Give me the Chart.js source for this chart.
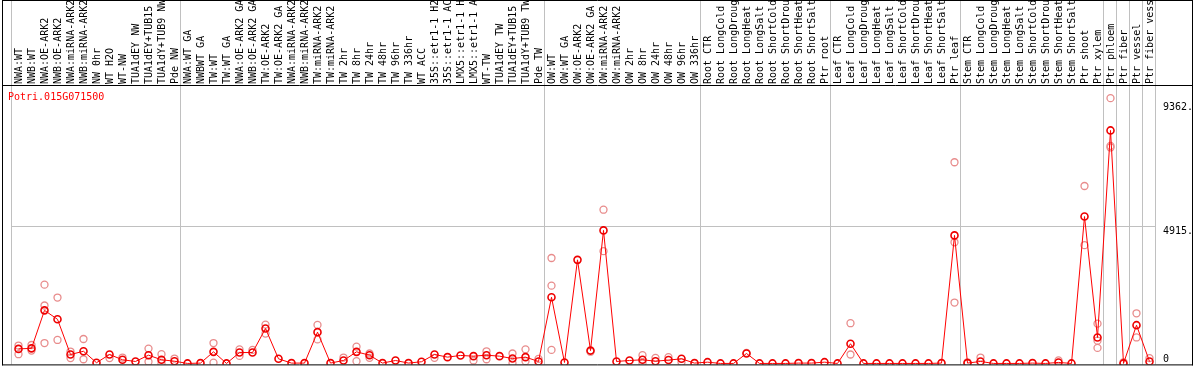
<!DOCTYPE html>
<html>
<head>
<meta charset="utf-8">
<script src="https://cdn.jsdelivr.net/npm/chart.js@4/dist/chart.umd.min.js"></script>
<style>
  html, body { margin: 0; padding: 0; background: #fff; }
  canvas { display: block; }
</style>
</head>
<body>
<canvas id="expr" width="1194" height="370"></canvas>
<script>
const GENE = "Potri.015G071500";

const samples = [
  "NWA:WT", "NWB:WT", "NWA:OE-ARK2", "NWB:OE-ARK2", "NWA:miRNA-ARK2", "NWB:miRNA-ARK2",
  "NW 0hr", "WT H2O", "WT-NW", "TUA1dEY NW", "TUA1dEY+TUB15 NW", "TUA1dY+TUB9 NW", "Pde NW",
  "NWA:WT GA", "NWBWT GA", "TW:WT", "TW:WT GA", "NWA:OE-ARK2 GA", "NWB:OE-ARK2 GA",
  "TW:OE-ARK2", "TW:OE-ARK2 GA", "NWA:miRNA-ARK2 GA", "NWB:miRNA-ARK2 GA", "TW:miRNA-ARK2",
  "TW:miRNA-ARK2 GA", "TW 2hr", "TW 8hr", "TW 24hr", "TW 48hr", "TW 96hr", "TW 336hr",
  "WT ACC", "35S::etr1-1 H2O", "35S::etr1-1 ACC", "LMX5::etr1-1 H2O", "LMX5::etr1-1 ACC",
  "WT-TW", "TUA1dEY TW", "TUA1dEY+TUB15 TW", "TUA1dY+TUB9 TW", "Pde TW",
  "OW:WT", "OW:WT GA", "OW:OE-ARK2", "OW:OE-ARK2 GA", "OW:miRNA-ARK2", "OW:miRNA-ARK2 GA",
  "OW 2hr", "OW 8hr", "OW 24hr", "OW 48hr", "OW 96hr", "OW 336hr",
  "Root CTR", "Root LongCold", "Root LongDrought", "Root LongHeat", "Root LongSalt",
  "Root ShortCold", "Root ShortDrought", "Root ShortHeat", "Root ShortSalt", "Ptr root",
  "Leaf CTR", "Leaf LongCold", "Leaf LongDrought", "Leaf LongHeat", "Leaf LongSalt",
  "Leaf ShortCold", "Leaf ShortDrought", "Leaf ShortHeat", "Leaf ShortSalt", "Ptr leaf",
  "Stem CTR", "Stem LongCold", "Stem LongDrought", "Stem LongHeat", "Stem LongSalt",
  "Stem ShortCold", "Stem ShortDrought", "Stem ShortHeat", "Stem ShortSalt",
  "Ptr shoot", "Ptr xylem", "Ptr phloem", "Ptr fiber", "Ptr vessel", "Ptr fiber vessel"
];

// index where a new sample group starts (grey separators)
const groupStarts = [0, 13, 41, 53, 63, 73, 84, 85, 86, 87, 88];

// mean expression per sample
const means = [
  520, 540, 1900, 1580, 320, 435, 25, 320, 130, 70,
  295, 130, 80, 0, 12, 415, 0, 390, 390, 1250,
  165, 12, 12, 1120, 12, 105, 415, 295, 12, 105,
  12, 60, 320, 225, 285, 260, 295, 260, 175, 225,
  70, 2370, 35, 3710, 460, 4765, 70, 105, 130, 80,
  120, 165, 12, 45, 0, 0, 355, 0, 0, 0,
  12, 12, 45, 0, 705, 0, 0, 0, 0, 0,
  0, 12, 4585, 12, 70, 0, 0, 0, 12, 0,
  35, 0, 5260, 930, 8345, 0, 1370, 70
];

// single replicates (null = hidden behind the mean marker)
const rep1 = [
  640, 660, 2820, 2360, 425, 875, null, 190, 210, null,
  530, 330, 175, null, null, 730, null, 505, 485, 1390,
  null, null, null, 1380, null, 210, 600, 355, null, null,
  null, null, 200, null, null, 105, 435, null, 355, 505,
  165, 3775, null, null, 420, 5505, null, null, 295, 200,
  225, 45, null, null, null, null, 380, null, null, null,
  null, null, null, null, 1440, null, null, null, null, null,
  null, null, 7205, 40, 210, null, null, null, null, null,
  110, null, 6355, 1425, 9500, 40, 1795, 190
];
const rep2 = [
  330, 460, 2075, 840, 190, 150, null, null, null, null,
  60, 0, null, null, null, 25, null, 270, null, 1070,
  null, null, null, 860, null, null, 80, 200, null, null,
  null, null, null, null, null, null, 150, null, 12, 80,
  null, 2785, null, null, null, 4020, null, null, 12, null,
  null, null, null, null, null, null, null, null, null, null,
  null, null, null, null, 320, null, null, null, null, null,
  null, null, 4340, null, null, null, null, null, null, null,
  null, null, 4235, 815, 7790, null, 930, null
];
const rep3 = samples.map(() => null);
rep3[2] = 730; rep3[41] = 485; rep3[72] = 2180; rep3[83] = 555; rep3[84] = 7735;

const yTicks = [0, 4915, 9362];
const yTickLabels = ["0", "4915.", "9362."];

const FONT = "DejaVu Sans Mono";
Chart.defaults.font.family = FONT;
Chart.defaults.font.size = 10;

const decor = {
  id: "decor",
  beforeDraw(chart) {
    const { ctx, scales: { x, y }, chartArea } = chart;
    ctx.save();
    ctx.strokeStyle = "#c0c0c0";
    ctx.lineWidth = 1;
    for (const i of groupStarts) {
      let px;
      if (i === 0) px = chartArea.left;
      else if (i === samples.length) px = chartArea.right;
      else px = (x.getPixelForValue(i - 1) + x.getPixelForValue(i)) / 2;
      px = Math.round(px) - 0.5;
      ctx.beginPath();
      ctx.moveTo(px, 0);
      ctx.lineTo(px, chartArea.bottom);
      ctx.stroke();
    }
    const gy = Math.round(y.getPixelForValue(4915)) + 0.5;
    ctx.beginPath();
    ctx.moveTo(chartArea.left, gy);
    ctx.lineTo(chartArea.right, gy);
    ctx.stroke();
    ctx.restore();
  },
  afterDraw(chart) {
    const { ctx, scales: { y }, chartArea, width } = chart;
    ctx.save();
    ctx.strokeStyle = "#000";
    ctx.lineWidth = 1;
    ctx.beginPath();
    ctx.moveTo(2.5, 0); ctx.lineTo(2.5, chartArea.bottom + 1);
    ctx.moveTo(width - 1.5, 0); ctx.lineTo(width - 1.5, chartArea.bottom + 1);
    ctx.moveTo(2, 0.5); ctx.lineTo(width - 1, 0.5);
    ctx.moveTo(2, chartArea.top - 0.5); ctx.lineTo(width - 1, chartArea.top - 0.5);
    ctx.moveTo(2, chartArea.bottom + 0.5); ctx.lineTo(width - 1, chartArea.bottom + 0.5);
    ctx.stroke();

    ctx.font = "10px '" + FONT + "'";
    ctx.fillStyle = "#ff0000";
    ctx.textAlign = "left";
    ctx.textBaseline = "middle";
    ctx.fillText(GENE, 8, 97);

    ctx.fillStyle = "#000";
    yTicks.forEach((v, i) => {
      const py = y.getPixelForValue(v);
      ctx.textBaseline = v === 0 ? "bottom" : "top";
      ctx.fillText(yTickLabels[i], chartArea.right + 7, v === 0 ? py + 1 : py);
    });
    ctx.restore();
  }
};

const repStyle = {
  showLine: false,
  pointRadius: 3.5,
  pointBorderWidth: 1.3,
  pointBorderColor: "#e88c8c",
  pointBackgroundColor: "rgba(0,0,0,0)",
  borderColor: "#e88c8c"
};

new Chart(document.getElementById("expr"), {
  type: "line",
  data: {
    labels: samples,
    datasets: [
      {
        label: GENE,
        data: means,
        borderColor: "#ff0000",
        borderWidth: 1,
        tension: 0,
        pointRadius: 3.5,
        pointBorderWidth: 1.6,
        pointBorderColor: "#ee0000",
        pointBackgroundColor: "rgba(0,0,0,0)"
      },
      { label: "rep1", data: rep1, ...repStyle },
      { label: "rep2", data: rep2, ...repStyle },
      { label: "rep3", data: rep3, ...repStyle }
    ]
  },
  options: {
    responsive: false,
    animation: false,
    devicePixelRatio: 1,
    layout: { padding: { left: 12, right: 0, top: 0, bottom: 2 } },
    plugins: { legend: { display: false }, tooltip: { enabled: false } },
    scales: {
      x: {
        type: "category",
        position: "top",
        offset: true,
        grid: { display: false, drawTicks: false, tickLength: 0 },
        border: { display: false },
        ticks: {
          autoSkip: false,
          minRotation: 90,
          maxRotation: 90,
          padding: 2,
          labelOffset: 12.5,
          color: "#000",
          font: { family: FONT, size: 10 }
        },
        afterFit(scale) { scale.height = 86; }
      },
      y: {
        position: "right",
        min: -35,
        max: 9936,
        grid: { display: false },
        border: { display: false },
        ticks: { display: false },
        afterBuildTicks(scale) { scale.ticks = yTicks.map(v => ({ value: v })); },
        afterFit(scale) { scale.width = 38; }
      }
    }
  },
  plugins: [decor]
});
</script>
</body>
</html>
